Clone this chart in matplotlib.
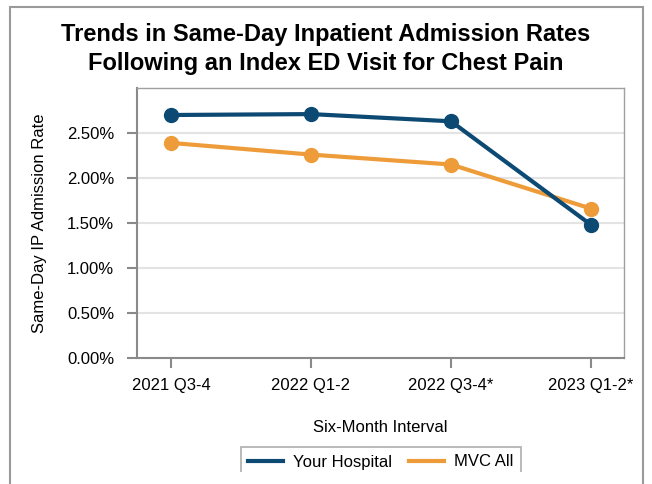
import matplotlib
matplotlib.use("Agg")
import matplotlib.pyplot as plt
from matplotlib.patches import Rectangle
from matplotlib.ticker import FuncFormatter

intervals = ["2021 Q3-4", "2022 Q1-2", "2022 Q3-4*", "2023 Q1-2*"]
your_hospital = [2.70, 2.71, 2.63, 1.48]
mvc_all = [2.39, 2.26, 2.15, 1.66]

navy = "#0c4a74"
orange = "#ee9c3a"

plt.rcParams["font.family"] = ["Liberation Sans", "DejaVu Sans"]

W, H = 652, 484
fig = plt.figure(figsize=(W / 100, H / 100), dpi=100)
ax = fig.add_axes([137 / W, 1 - 358 / H, (624 - 137) / W, (358 - 88) / H])

x = range(len(intervals))
ax.plot(x, your_hospital, color=navy, lw=3, marker="o", ms=10, label="Your Hospital", zorder=3)
ax.plot(x, mvc_all, color=orange, lw=3, marker="o", ms=10, label="MVC All", zorder=2)

ax.set_xlim(-0.243, 3.236)
ax.set_ylim(0, 3.0)
ax.set_yticks([0, 0.5, 1.0, 1.5, 2.0, 2.5])
ax.yaxis.set_major_formatter(FuncFormatter(lambda v, p: f"{v:.2f}%"))
ax.set_xticks(list(x))
ax.set_xticklabels(intervals)
ax.grid(axis="y", color="#e3e3e3", lw=1.5)
ax.set_axisbelow(True)

for s in ["left", "bottom"]:
    ax.spines[s].set_color("#8a8a8a")
    ax.spines[s].set_linewidth(1.5)
for s in ["top", "right"]:
    ax.spines[s].set_color("#a0a0a0")
    ax.spines[s].set_linewidth(1)
ax.tick_params(axis="both", colors="#8a8a8a", width=1.5, length=7.5, labelsize=12, labelcolor="black")
ax.tick_params(axis="y", pad=9)
ax.tick_params(axis="x", pad=7)

ax.set_xlabel("Six-Month Interval", fontsize=12, labelpad=19)
ax.set_ylabel("Same-Day IP Admission Rate", fontsize=12, labelpad=14)

title_kw = dict(ha="center", va="baseline", fontsize=17, fontweight="bold")
fig.text(0.5, 1 - 41 / H, "Trends in Same-Day Inpatient Admission Rates", **title_kw)
fig.text(0.5, 1 - 70 / H, "Following an Index ED Visit for Chest Pain", **title_kw)

# outer chart border (runs off the bottom edge)
fig.patches.append(Rectangle((10 / W, -0.1), (643 - 10) / W, 1.1 - 7 / H, transform=fig.transFigure,
                             fill=False, edgecolor="#9a9a9a", lw=1.5))

leg = fig.legend(loc="upper center", bbox_to_anchor=(381 / W, 1 - 447 / H), ncol=2, fontsize=12,
                 frameon=True, fancybox=False, edgecolor="#9a9a9a", handlelength=2.1, handletextpad=0.6,
                 columnspacing=1.0, borderpad=0.45, borderaxespad=0)
leg.get_frame().set_linewidth(1.2)
for h in leg.legend_handles:
    h.set_marker("")

# the legend is cut off at the bottom of the chart area
fig.patches.append(Rectangle((230 / W, 0), (540 - 230) / W, (H - 472) / H, transform=fig.transFigure,
                             facecolor="white", edgecolor="none", zorder=10))

fig.savefig("out.png", dpi=100)
